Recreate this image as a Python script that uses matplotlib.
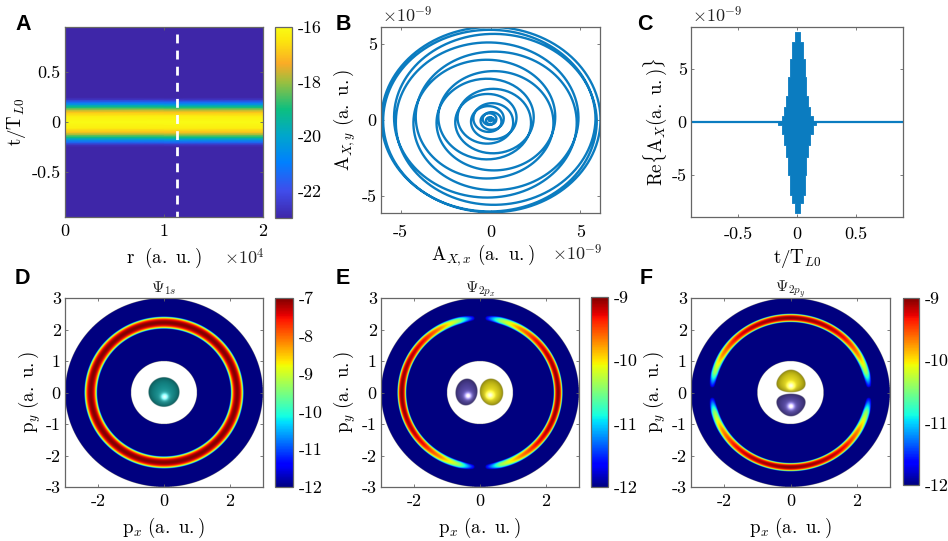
import numpy as np
import matplotlib
matplotlib.use('Agg')
import matplotlib.pyplot as plt
from matplotlib.colors import LinearSegmentedColormap

plt.rcParams['mathtext.fontset'] = 'cm'
plt.rcParams['font.family'] = 'cmr10'
plt.rcParams['axes.formatter.use_mathtext'] = True
plt.rcParams['axes.unicode_minus'] = False

# ---------- data ----------
# A: log-intensity across the pulse
a_t = [-0.95, -0.25, -0.225, -0.2, -0.175, -0.15, -0.125, -0.1, -0.06, 0.0,
       0.06, 0.1, 0.125, 0.15, 0.175, 0.2, 0.225, 0.25, 0.95]
a_v = [-23, -23, -22.6, -21.4, -20.3, -19.0, -18.0, -17.0, -16.3, -16.0,
       -16.3, -17.0, -18.0, -19.0, -20.3, -21.4, -22.6, -23, -23]
a_r = [0, 20000]
cut_r = 11300

# B: radius of the spiral at successive half turns (units 1e-9), inner to outer and back
b_radii = [0.05, 0.1, 0.25, 0.32, 0.55, 0.73, 1.08, 1.44, 1.96, 2.4, 3.0, 3.6,
           4.29, 4.9, 5.27, 5.85, 5.98,
           6.13, 6.08, 5.92, 5.37, 4.8, 4.16, 3.5, 2.9, 2.25, 1.83, 1.25, 0.95,
           0.6, 0.43, 0.2, 0.1, 0.03]

# C: stepped envelope of the fast carrier (units 1e-9)
c_t = [-0.9, -0.16, -0.13, -0.11, -0.095, -0.076, -0.06, -0.04, -0.017, 0.022,
       0.05, 0.07, 0.08, 0.093, 0.11, 0.135, 0.16, 0.9]
c_up = [0.03, 0.1, 0.6, 1.4, 2.5, 4.3, 6.0, 7.6, 8.5, 7.6,
        6.0, 4.3, 2.5, 1.4, 0.6, 0.1, 0.03, 0.03]
c_low = [-0.03, -0.3, -1.1, -2.2, -3.3, -5.0, -6.9, -7.7, -8.6, -7.7,
         -6.9, -5.0, -3.3, -2.2, -1.1, -0.3, -0.03, -0.03]

# D-F: ring profile
ring_offset = [0.0, 0.2, 0.4, 0.6, 0.8, 0.9, 1.0, 1.2]
ring_drop = [0.0, 0.02, 0.07, 0.18, 0.42, 0.62, 1.0, 1.5]
d_center, d_halfwidth, d_peak = 2.22, 0.20, -7.0
p_center, p_halfwidth, p_peak = 2.37, 0.14, -9.0
lobe_angle = [0, 30, 45, 60, 75, 85, 86.4, 88, 90]
lobe_gain = [0, -0.12, -0.3, -0.7, -1.4, -2.6, -3.0, -3.6, -6.0]

tint_teal = (0.07, 0.52, 0.52)
tint_purple = (0.29, 0.24, 0.58)
tint_yellow = (0.80, 0.76, 0.08)

parula = LinearSegmentedColormap.from_list('parula', [
    (0.00, (0.2422, 0.1504, 0.6603)), (0.14, (0.2500, 0.3000, 0.9200)),
    (0.29, (0.0000, 0.5000, 1.0000)), (0.43, (0.0000, 0.6500, 0.8000)),
    (0.57, (0.0500, 0.7500, 0.5000)), (0.71, (0.6000, 0.7500, 0.2500)),
    (0.81, (0.9800, 0.6700, 0.1500)), (0.93, (0.9900, 0.9000, 0.0500)),
    (1.00, (0.9769, 0.9839, 0.0805))])

W, H = 948, 541
fig = plt.figure(figsize=(W / 100, H / 100), dpi=100)
BLUE = '#0b7cc0'
EDGE = '#666666'
TS, LS = 13, 13.6


def box(x0, x1, y0, y1):
    ax = fig.add_axes([x0 / W, 1 - y1 / H, (x1 - x0) / W, (y1 - y0) / H])
    ax._px = (x0, x1, y0, y1)
    return ax


def style(ax, xt, xl, yt, yl, xlabel, ylabel, xlab_y, ylab_x, xpad=5, ypad=3, xlab_x=None):
    ax.set_xticks(xt, xl)
    ax.set_yticks(yt, yl)
    ax.tick_params(direction='in', length=2, width=0.6, color=EDGE, labelsize=TS,
                   top=True, right=True)
    ax.tick_params(axis='x', pad=xpad)
    ax.tick_params(axis='y', pad=ypad)
    for s in ax.spines.values():
        s.set_color(EDGE)
        s.set_linewidth(0.9)
    x0, x1, y0, y1 = ax._px
    ax.set_xlabel(xlabel, fontsize=LS, va='center')
    ax.set_ylabel(ylabel, fontsize=LS, va='center')
    cx = 0.5 if xlab_x is None else (xlab_x - x0) / (x1 - x0)
    ax.xaxis.set_label_coords(cx, (y1 - xlab_y) / (y1 - y0))
    ax.yaxis.set_label_coords((ylab_x - x0) / (x1 - x0), 0.5)


def cbar(mappable, x0, x1, y0, y1, ticks, labels):
    cax = box(x0, x1, y0, y1)
    cb = fig.colorbar(mappable, cax=cax)
    cb.set_ticks(ticks, labels=labels)
    cb.ax.tick_params(length=0, labelsize=TS, pad=4)
    cb.outline.set_edgecolor(EDGE)
    cb.outline.set_linewidth(0.9)


def letter(s, x, y):
    fig.text(x / W, 1 - y / H, s, family='Liberation Sans', fontweight='bold',
             fontsize=15.5, ha='left', va='center', color='black')


def ptext(s, x, y, size=TS, ha='left'):
    fig.text(x / W, 1 - y / H, s, fontsize=size, ha=ha, va='center', color='#222222')


# ---------- A ----------
axA = box(65, 262.5, 27, 217)
mA = axA.pcolormesh(a_r, a_t, np.column_stack([a_v, a_v]), shading='gouraud',
                    cmap=parula, vmin=-23, vmax=-16, rasterized=True)
axA.plot([cut_r, cut_r], [0.88, -0.95], color='white', lw=2, dashes=(3.2, 2.6))
axA.set_xlim(0, 20000)
axA.set_ylim(-0.95, 0.95)
style(axA, [0, 10000, 20000], ['0', '1', '2'], [-0.5, 0, 0.5], ['-0.5', '0', '0.5'],
      r'$\mathrm{r\ \ (a.\ u.)}$', r'$\mathrm{t/T}_{L0}$', 258, 17, xpad=4.5)
cbar(mA, 275, 292, 27, 218, [-22, -20, -18, -16], ['-22', '-20', '-18', '-16'])
ptext(r'$\times 10^{4}$', 224, 257)

# ---------- B ----------
axB = box(381, 600, 27, 213)
idx = np.arange(len(b_radii))
th = np.linspace(0, len(b_radii) - 1, 60 * len(b_radii))
rad = np.interp(th, idx, b_radii)
ang = (th + 1) * np.pi
axB.plot(rad * np.cos(ang), rad * np.sin(ang), color=BLUE, lw=1.7)
axB.set_xlim(-6.1, 6.1)
axB.set_ylim(-6.1, 6.1)
style(axB, [-5, 0, 5], ['-5', '0', '5'], [-5, 0, 5], ['-5', '0', '5'],
      r'$\mathrm{A}_{X,x}\ \mathrm{(a.\ u.)}$', r'$\mathrm{A}_{X,y}\ \mathrm{(a.\ u.)}$',
      255, 345, xpad=8.5, xlab_x=483)
ptext(r'$\times 10^{-9}$', 382, 15)
ptext(r'$\times 10^{-9}$', 552, 253)

# ---------- C ----------
axC = box(691, 903, 27, 217)
axC.fill_between(c_t, c_low, c_up, step='post', color=BLUE, lw=0.6)
axC.plot([-0.9, 0.9], [0, 0], color=BLUE, lw=1.6)
axC.set_xlim(-0.9, 0.9)
axC.set_ylim(-9, 9)
style(axC, [-0.5, 0, 0.5], ['-0.5', '0', '0.5'], [-5, 0, 5], ['-5', '0', '5'],
      r'$\mathrm{t/T}_{L0}$', r'$\mathrm{Re\{A}_{X}\mathrm{(a.\ u.)\}}$', 259, 655, xpad=7)
ptext(r'$\times 10^{-9}$', 692, 15)

# ---------- D-F ----------
grid = np.linspace(-3, 3, 1201)
PX, PY = np.meshgrid(grid, grid)
R = np.hypot(PX, PY)
OUTSIDE = (R < 1.0) | (R > 3.0)


def ring_field(center, halfwidth, peak, floor=-12.0):
    depth = peak - floor
    d = np.abs(R - center) / halfwidth
    return peak - depth * np.interp(d, ring_offset, ring_drop, right=30)


def angular(angle_from_axis):
    return np.interp(np.degrees(angle_from_axis), lobe_angle, lobe_gain)


def blob(ax, cx, cy, a, b, tint, hx, hy, tilt=0.0, taper=0.0):
    xs = np.linspace(cx - 1.4 * a, cx + 1.4 * a, 140)
    ys = np.linspace(cy - 1.4 * b, cy + 1.4 * b, 140)
    X, Y = np.meshgrid(xs, ys)
    c, s = np.cos(tilt), np.sin(tilt)
    u = ((X - cx) * c + (Y - cy) * s) / a
    v = (-(X - cx) * s + (Y - cy) * c) / b
    u = u * (1 + taper * v)
    rho2 = u ** 2 + v ** 2
    nz = np.sqrt(np.clip(1 - rho2, 0, 1))
    shade = 0.55 + 0.50 * nz
    dist2 = (X - hx) ** 2 + (Y - hy) ** 2
    spec = np.exp(-dist2 / 0.010) * 0.75 + np.exp(-dist2 / 0.06) * 0.10
    rgba = np.zeros(X.shape + (4,))
    for k in range(3):
        rgba[..., k] = np.clip(tint[k] * shade + spec, 0, 1)
    rgba[..., 3] = np.clip((1 - rho2) * 25, 0, 1)
    ax.imshow(rgba, extent=(xs[0], xs[-1], ys[0], ys[-1]), origin='lower', aspect='auto',
              zorder=5, interpolation='bilinear')


def panel(rect, field, vmax, title, cb_rect, cb_ticks, blobs, ylab_x):
    ax = box(*rect)
    shown = np.ma.masked_where(OUTSIDE, np.clip(field, -12, None))
    m = ax.imshow(shown, extent=(-3, 3, -3, 3), origin='lower', aspect='auto', cmap='jet',
                  vmin=-12, vmax=vmax, interpolation='antialiased')
    for bl in blobs:
        blob(ax, *bl[0], **bl[1])
    ax.set_xlim(-3, 3)
    ax.set_ylim(-3, 3)
    style(ax, [-2, 0, 2], ['-2', '0', '2'], [-3, -2, -1, 0, 1, 2, 3],
          ['-3', '-2', '-1', '0', '1', '2', '3'],
          r'$\mathrm{p}_{x}\ \mathrm{(a.\ u.)}$', r'$\mathrm{p}_{y}\ \mathrm{(a.\ u.)}$',
          528, ylab_x, xpad=5)
    ax.set_title(title, fontsize=11.5, pad=4, color='#222222')
    cbar(m, *cb_rect, cb_ticks, [str(t) for t in cb_ticks])
    return ax


field_d = ring_field(d_center, d_halfwidth, d_peak)
base_p = ring_field(p_center, p_halfwidth, p_peak)
from_x = np.arctan2(np.abs(PY), np.abs(PX))
field_e = base_p + angular(from_x)
field_f = base_p + angular(np.pi / 2 - from_x)

panel((65, 262.5, 298, 487), field_d, -7, r'$\Psi_{1s}$', (275, 293, 298, 487),
      [-12, -11, -10, -9, -8, -7],
      [((0, 0, 0.475, 0.475, tint_teal, 0.02, -0.15), {})], 30)
panel((381, 578.7, 298, 487), field_e, -9, r'$\Psi_{2p_x}$', (591, 608, 297, 487),
      [-12, -11, -10, -9],
      [((-0.41, 0, 0.335, 0.43, tint_purple, -0.36, -0.12), {'tilt': -0.12}),
       ((0.34, 0, 0.35, 0.43, tint_yellow, 0.30, -0.10), {'tilt': 0.12})], 345)
panel((691, 890, 298, 487), field_f, -9, r'$\Psi_{2p_y}$', (903, 919, 298, 485),
      [-12, -11, -10, -9],
      [((0, 0.37, 0.43, 0.36, tint_yellow, 0, 0.22), {'taper': 0.25}),
       ((0, -0.40, 0.43, 0.36, tint_purple, 0, -0.44), {'taper': -0.25})], 655)

for s, x, y in (('A', 15, 24), ('B', 336, 24), ('C', 637, 24),
                ('D', 15, 279), ('E', 336, 279), ('F', 640, 279)):
    letter(s, x, y)

fig.savefig('out.png', dpi=100, facecolor='white')
